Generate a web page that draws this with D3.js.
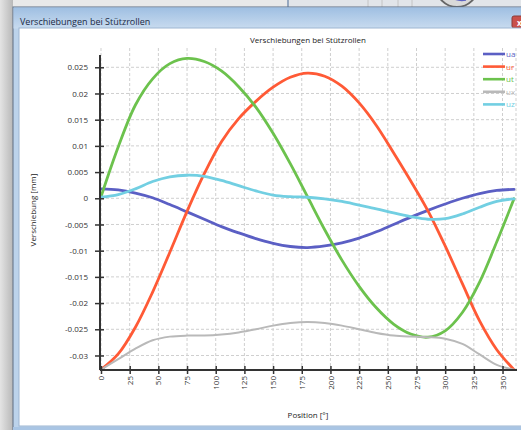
<!DOCTYPE html>
<html><head><meta charset="utf-8">
<script src="https://cdn.jsdelivr.net/npm/d3@7/dist/d3.min.js"></script>
<style>
html,body{margin:0;padding:0;background:#e9e9e9;overflow:hidden}
svg{display:block;font-family:"Open Sans","DejaVu Sans",sans-serif}
</style>
</head><body>
<svg id="c" width="521" height="430"></svg>
<script>
// Rollen-Position in Grad
const positions = [0,15,30,45,60,75,90,105,120,135,150,165,180,195,210,225,240,255,270,285,300,315,330,345,360];
// Verschiebungen in mm
const ua = [0.0018,0.0016,0.0010,0.0001,-0.0012,-0.0026,-0.0040,-0.0054,-0.0066,-0.0077,-0.0086,-0.0092,-0.0094,-0.0091,-0.0085,-0.0076,-0.0064,-0.0050,-0.0036,-0.0023,-0.0011,0.0000,0.0009,0.0015,0.0017];
const ur = [-0.0327,-0.0297,-0.0246,-0.0179,-0.0103,-0.0025,0.0047,0.0108,0.0152,0.0185,0.0212,0.0231,0.0239,0.0233,0.0214,0.0182,0.0139,0.0087,0.0033,-0.0024,-0.0091,-0.0163,-0.0234,-0.0289,-0.0327];
const ut = [0.0003,0.0098,0.0178,0.0228,0.0257,0.0267,0.0261,0.0243,0.0213,0.0174,0.0124,0.0066,0.0003,-0.0060,-0.0118,-0.0168,-0.0209,-0.0240,-0.0259,-0.0265,-0.0253,-0.0218,-0.0160,-0.0083,-0.0001];
const ux = [-0.0327,-0.0307,-0.0287,-0.0271,-0.0264,-0.0262,-0.0262,-0.0260,-0.0256,-0.0250,-0.0243,-0.0238,-0.0236,-0.0238,-0.0243,-0.0250,-0.0257,-0.0262,-0.0264,-0.0265,-0.0268,-0.0278,-0.0298,-0.0318,-0.0327];
const uz = [0.0002,0.0007,0.0018,0.0032,0.0041,0.0044,0.0042,0.0034,0.0024,0.0014,0.0006,0.0003,0.0002,-0.0001,-0.0006,-0.0013,-0.0020,-0.0028,-0.0035,-0.0040,-0.0039,-0.0030,-0.0017,-0.0006,-0.0001];

const seriesNames = ["ua","ur","ut","ux","uz"];
const seriesColors = ["#5b5fc4","#ff5a36","#6cc24d","#b9b9b9","#72cfe2"];
const xTicks = [0,25,50,75,100,125,150,175,200,225,250,275,300,325,350];
const yTicks = [0.025,0.02,0.015,0.01,0.005,0,-0.005,-0.01,-0.015,-0.02,-0.025,-0.03];
const windowTitle = "Verschiebungen bei Stützrollen";
const chartTitle = "Verschiebungen bei Stützrollen";
const xTitle = "Position [°]";
const yTitle = "Verschiebung [mm]";

const svg = d3.select("#c");
const defs = svg.append("defs");

// --- Fensterrahmen ---
const shadow = defs.append("linearGradient").attr("id","shadow").attr("x1",0).attr("x2",1);
shadow.append("stop").attr("offset",0).attr("stop-color","#e4e4e4");
shadow.append("stop").attr("offset",1).attr("stop-color","#b8b8b8");
svg.append("rect").attr("x",0).attr("y",0).attr("width",13).attr("height",430).attr("fill","url(#shadow)");

// Fenster im Hintergrund oben rechts
const back = svg.append("g");
back.append("rect").attr("x",287).attr("y",0).attr("width",234).attr("height",8).attr("fill","#e2e5e9");
back.append("line").attr("x1",288).attr("x2",288).attr("y1",0).attr("y2",8).attr("stroke","#7e93b0").attr("stroke-width",1.5);
[368,382,398,412].forEach(x => back.append("line").attr("x1",x).attr("x2",x).attr("y1",0).attr("y2",8).attr("stroke","#c4c4c4"));
back.append("circle").attr("cx",457).attr("cy",-14).attr("r",21).attr("fill","#d9d9d9").attr("stroke","#666").attr("stroke-width",2);
back.append("path").attr("d","M448,-6 Q455,2 466,0").attr("fill","none").attr("stroke","#5d63c2").attr("stroke-width",1.5);

const frameGrad = defs.append("linearGradient").attr("id","frame").attr("x1",0).attr("y1",0).attr("x2",0).attr("y2",1);
frameGrad.append("stop").attr("offset",0).attr("stop-color","#9fbfe2");
frameGrad.append("stop").attr("offset",1).attr("stop-color","#c8dbef");
svg.append("rect").attr("x",13).attr("y",7).attr("width",520).attr("height",430).attr("fill","#bcd3eb").attr("stroke","#5f6f84").attr("stroke-width",1);
svg.append("rect").attr("x",13.5).attr("y",7.5).attr("width",520).attr("height",21).attr("fill","url(#frame)");
svg.append("text").attr("x",20).attr("y",25).attr("font-size",9).attr("fill","#1b2a45").text(windowTitle);
// Schließen-Knopf
svg.append("rect").attr("x",512).attr("y",16).attr("width",14).attr("height",12).attr("rx",2).attr("fill","#c9504a").attr("stroke","#8a3a36");
svg.append("text").attr("x",517).attr("y",25.5).attr("font-size",8).attr("fill","#fff").attr("font-weight","bold").text("x");

// Zeichenfläche
svg.append("rect").attr("x",19).attr("y",28).attr("width",510).attr("height",398).attr("fill","#ffffff").attr("stroke","#9db6d2").attr("stroke-width",1);
svg.append("rect").attr("x",13).attr("y",427).attr("width",520).attr("height",4).attr("fill","#a9c5e4");

// --- Diagramm ---
const x = d3.scaleLinear().domain([0,360]).range([101,514]);
const y = d3.scaleLinear().domain([-0.03277,0.02868]).range([370,48]);
const plotTop = 48, plotBottom = 370;

const grid = svg.append("g").attr("stroke","#cfcfcf").attr("stroke-width",1).attr("stroke-dasharray","3,2");
xTicks.forEach(t => grid.append("line").attr("x1",x(t)).attr("x2",x(t)).attr("y1",plotTop).attr("y2",plotBottom));
grid.append("line").attr("x1",516).attr("x2",516).attr("y1",plotTop).attr("y2",plotBottom);
yTicks.forEach(t => grid.append("line").attr("x1",x(0)).attr("x2",516).attr("y1",y(t)).attr("y2",y(t)));

svg.append("text").attr("x",308).attr("y",43).attr("text-anchor","middle").attr("font-size",8).attr("fill","#222").text(chartTitle);

// Kurven
const allSeries = [ua,ur,ut,ux,uz];
const line = d3.line().x((d,i) => x(positions[i])).y(d => y(d)).curve(d3.curveCatmullRom.alpha(0.5));
const curves = svg.append("g").attr("fill","none").attr("stroke-linejoin","round").attr("stroke-linecap","round");
allSeries.forEach((s,k) => {
  curves.append("path").datum(s).attr("d",line).attr("stroke",seriesColors[k]).attr("stroke-width",k===3?2:2.8);
});

// Achsen
const yAxis = svg.append("g").attr("transform",`translate(${x(0)-1},0)`)
  .call(d3.axisLeft(y).tickValues(yTicks).tickSize(5).tickPadding(7).tickFormat(v => String(+v.toFixed(3))));
yAxis.select(".domain").attr("d",`M0,55V${plotBottom}`).attr("stroke","#333").attr("stroke-width",2);
yAxis.selectAll(".tick line").attr("x2",-5).attr("x1",4).attr("stroke","#333").attr("stroke-width",1.5);
yAxis.selectAll(".tick text").attr("font-size",8).attr("fill","#333").attr("font-family","Open Sans, DejaVu Sans, sans-serif");

const xAxis = svg.append("g").attr("transform",`translate(0,${plotBottom})`)
  .call(d3.axisBottom(x).tickValues(xTicks).tickSize(4).tickFormat(d3.format("d")));
xAxis.select(".domain").attr("d",`M${x(0)-1},0H517`).attr("stroke","#333").attr("stroke-width",2);
xAxis.selectAll(".tick line").attr("y1",-4).attr("y2",4).attr("stroke","#333").attr("stroke-width",1.5);
xAxis.selectAll(".tick text").attr("font-size",8).attr("fill","#333").attr("font-family","Open Sans, DejaVu Sans, sans-serif")
  .attr("text-anchor","end").attr("dy","0.32em").attr("y",0).attr("transform","translate(0,6) rotate(-90)");

svg.append("text").attr("x",308).attr("y",418).attr("text-anchor","middle").attr("font-size",8).attr("fill","#222").text(xTitle);
svg.append("text").attr("transform","translate(36,210) rotate(-90)").attr("text-anchor","middle").attr("font-size",8).attr("fill","#222").text(yTitle);

// Legende
const legend = svg.append("g");
seriesNames.forEach((n,k) => {
  const ly = 54 + k*12.6;
  legend.append("line").attr("x1",483).attr("x2",505).attr("y1",ly).attr("y2",ly).attr("stroke",seriesColors[k]).attr("stroke-width",2.6);
  legend.append("text").attr("x",506).attr("y",ly+3).attr("font-size",8).attr("fill",seriesColors[k]).text(n);
});
</script>
</body></html>
